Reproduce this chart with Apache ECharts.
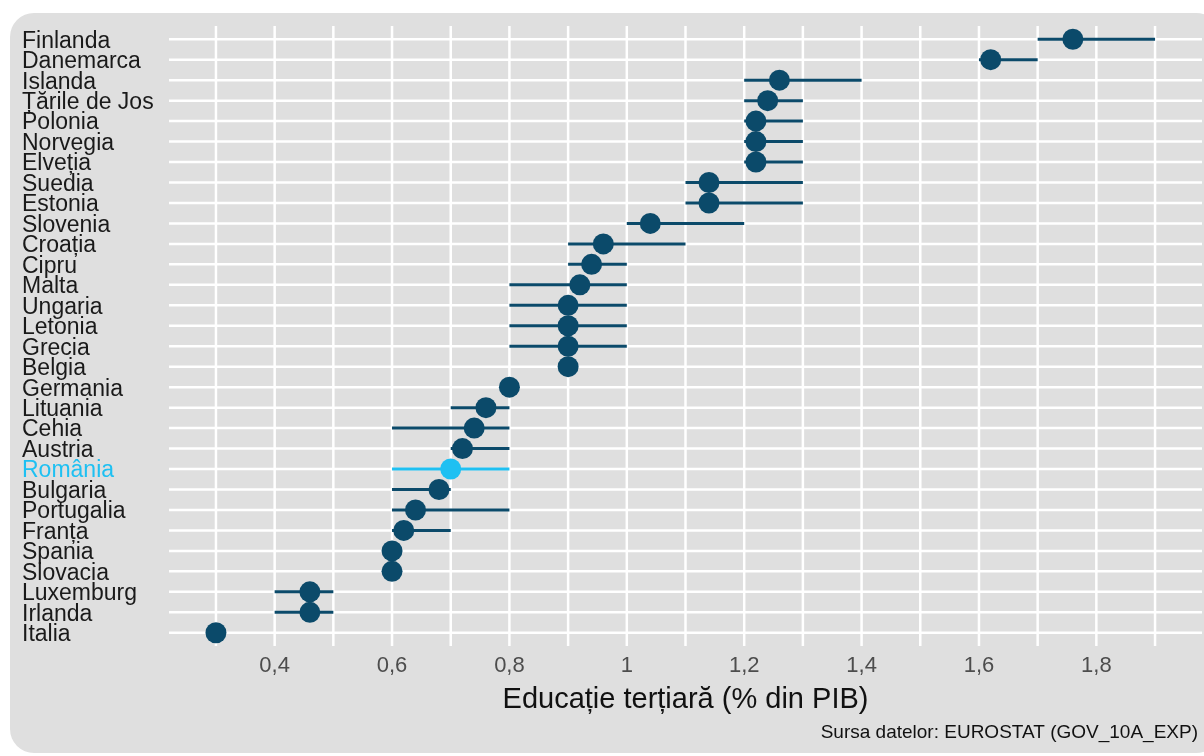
<!DOCTYPE html>
<html>
<head>
<meta charset="utf-8">
<script src="https://cdn.jsdelivr.net/npm/echarts@6/dist/echarts.min.js"></script>
<style>
  html, body { margin: 0; padding: 0; background: #fff; }
  #chart { width: 1204px; height: 756px; }
</style>
</head>
<body>
<div id="chart"></div>
<script>
// tari, de sus in jos
var countries = ['Finlanda', 'Danemarca', 'Islanda', 'Țările de Jos', 'Polonia', 'Norvegia', 'Elveția',
  'Suedia', 'Estonia', 'Slovenia', 'Croația', 'Cipru', 'Malta', 'Ungaria', 'Letonia', 'Grecia', 'Belgia',
  'Germania', 'Lituania', 'Cehia', 'Austria', 'România', 'Bulgaria', 'Portugalia', 'Franța', 'Spania',
  'Slovacia', 'Luxemburg', 'Irlanda', 'Italia'];
// valoarea medie (punctul)
var dotValues = [1.76, 1.62, 1.26, 1.24, 1.22, 1.22, 1.22, 1.14, 1.14, 1.04, 0.96, 0.94, 0.92, 0.9, 0.9, 0.9, 0.9,
  0.8, 0.76, 0.74, 0.72, 0.7, 0.68, 0.64, 0.62, 0.6, 0.6, 0.46, 0.46, 0.3];
// minim / maxim (linia)
var lowValues = [1.7, 1.6, 1.2, 1.2, 1.2, 1.2, 1.2, 1.1, 1.1, 1.0, 0.9, 0.9, 0.8, 0.8, 0.8, 0.8, 0.9,
  0.8, 0.7, 0.6, 0.7, 0.6, 0.6, 0.6, 0.6, 0.6, 0.6, 0.4, 0.4, 0.3];
var highValues = [1.9, 1.7, 1.4, 1.3, 1.3, 1.3, 1.3, 1.3, 1.3, 1.2, 1.1, 1.0, 1.0, 1.0, 1.0, 1.0, 0.9,
  0.8, 0.8, 0.8, 0.8, 0.8, 0.7, 0.8, 0.7, 0.6, 0.6, 0.5, 0.5, 0.3];
// linii verticale ale grilei
var gridValues = [0.3, 0.4, 0.5, 0.6, 0.7, 0.8, 0.9, 1.0, 1.1, 1.2, 1.3, 1.4, 1.5, 1.6, 1.7, 1.8, 1.9];

var highlight = 'România';
var dark = '#0b4a6a';
var light = '#1ec0f2';

var chart = echarts.init(document.getElementById('chart'));

var rangeData = countries.map(function (c, i) { return [lowValues[i], highValues[i], i]; });
var dotData = countries.map(function (c, i) {
  return {
    value: [dotValues[i], c],
    itemStyle: { color: c === highlight ? light : dark, opacity: 1 }
  };
});

chart.setOption({
  animation: false,
  graphic: [{
    type: 'rect',
    shape: { x: 10, y: 13, width: 1210, height: 740, r: 24 },
    style: { fill: '#dfdfdf' },
    z: -10
  }, {
    type: 'text',
    right: 6,
    top: 723,
    style: {
      text: 'Sursa datelor: EUROSTAT (GOV_10A_EXP)',
      fill: '#111',
      font: '19px "Liberation Sans"'
    }
  }],
  grid: { left: 169, right: 2, top: 29, bottom: 113 },
  xAxis: {
    type: 'value',
    min: 0.22,
    max: 1.98,
    splitNumber: 8,
    axisLine: { show: false },
    axisTick: { show: false },
    splitLine: { show: false },
    axisLabel: {
      showMinLabel: false,
      showMaxLabel: false,
      color: '#4d4d4d',
      fontFamily: 'Liberation Sans',
      fontSize: 22,
      margin: 12,
      formatter: function (v) {
        if (Math.abs(v * 5 - Math.round(v * 5)) > 1e-6) return '';
        return String(Math.round(v * 10) / 10).replace('.', ',');
      }
    },
    name: 'Educație terțiară (% din PIB)',
    nameLocation: 'middle',
    nameGap: 42,
    nameTextStyle: { color: '#111', fontFamily: 'Liberation Sans', fontSize: 29 }
  },
  yAxis: {
    type: 'category',
    data: countries,
    inverse: true,
    axisLine: { show: false },
    axisTick: { show: false },
    splitLine: { show: false },
    axisLabel: {
      interval: 0,
      margin: 147,
      align: 'left',
      fontFamily: 'Liberation Sans',
      fontSize: 23,
      lineHeight: 21,
      padding: [4, 0, 0, 0],
      color: '#1a1a1a',
      formatter: function (v) { return v === highlight ? '{hl|' + v + '}' : v; },
      rich: { hl: { color: light, fontFamily: 'Liberation Sans', fontSize: 23, lineHeight: 21 } }
    }
  },
  series: [
    {
      // linii orizontale ale grilei
      type: 'custom',
      silent: true,
      z: 1,
      data: countries.map(function (c, i) { return [i]; }),
      renderItem: function (params, api) {
        var cs = params.coordSys;
        var y = api.coord([0.3, api.value(0)])[1];
        return {
          type: 'line',
          shape: { x1: cs.x, y1: y, x2: cs.x + cs.width, y2: y },
          style: { stroke: '#ffffff', lineWidth: 2.5 }
        };
      }
    },
    {
      // linii verticale ale grilei
      type: 'custom',
      silent: true,
      z: 1,
      data: gridValues.map(function (v) { return [v]; }),
      renderItem: function (params, api) {
        var cs = params.coordSys;
        var x = api.coord([api.value(0), 0])[0];
        return {
          type: 'line',
          shape: { x1: x, y1: cs.y - 3, x2: x, y2: cs.y + cs.height + 3 },
          style: { stroke: '#ffffff', lineWidth: 2.5 }
        };
      }
    },
    {
      // intervalul min - max
      type: 'custom',
      z: 2,
      data: rangeData,
      renderItem: function (params, api) {
        var i = api.value(2);
        var p1 = api.coord([api.value(0), i]);
        var p2 = api.coord([api.value(1), i]);
        return {
          type: 'line',
          shape: { x1: p1[0], y1: p1[1], x2: p2[0], y2: p2[1] },
          style: { stroke: countries[i] === highlight ? light : dark, lineWidth: 3 }
        };
      }
    },
    {
      type: 'scatter',
      z: 3,
      symbolSize: 21,
      data: dotData
    }
  ]
});
</script>
</body>
</html>
